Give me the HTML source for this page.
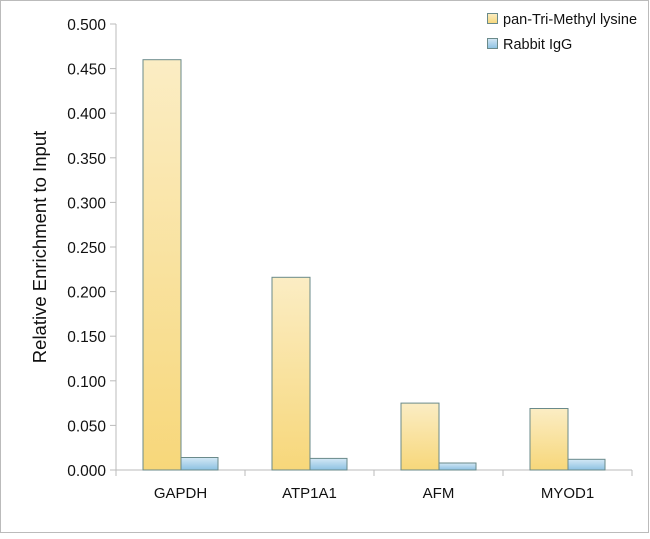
<!DOCTYPE html><html><head><style>body{margin:0;background:#fff}</style></head><body>
<svg width="650" height="534" xmlns="http://www.w3.org/2000/svg" font-family="Liberation Sans, sans-serif">
<defs>
<linearGradient id="y" x1="0" y1="0" x2="0" y2="1"><stop offset="0" stop-color="#fbedc4"/><stop offset="1" stop-color="#f7d77a"/></linearGradient>
<linearGradient id="b" x1="0" y1="0" x2="0" y2="1"><stop offset="0" stop-color="#d4e8f5"/><stop offset="1" stop-color="#8cc1e2"/></linearGradient>
</defs>
<rect x="0.5" y="0.5" width="648" height="532" fill="#fff" stroke="#bbb"/>
<g stroke="#bbb" fill="none">
<line x1="116" y1="24" x2="116" y2="470"/>
<line x1="116" y1="470" x2="632" y2="470"/>
<line x1="110" y1="24" x2="116" y2="24"/><line x1="110" y1="68.6" x2="116" y2="68.6"/><line x1="110" y1="113.2" x2="116" y2="113.2"/><line x1="110" y1="157.8" x2="116" y2="157.8"/><line x1="110" y1="202.4" x2="116" y2="202.4"/><line x1="110" y1="247" x2="116" y2="247"/><line x1="110" y1="291.6" x2="116" y2="291.6"/><line x1="110" y1="336.2" x2="116" y2="336.2"/><line x1="110" y1="380.8" x2="116" y2="380.8"/><line x1="110" y1="425.4" x2="116" y2="425.4"/><line x1="110" y1="470" x2="116" y2="470"/>
<line x1="245" y1="470" x2="245" y2="476"/><line x1="374" y1="470" x2="374" y2="476"/><line x1="503" y1="470" x2="503" y2="476"/><line x1="632" y1="470" x2="632" y2="476"/><line x1="116" y1="470" x2="116" y2="476"/>
</g>
<g font-size="15.5" text-anchor="end" fill="#111">
<text x="106" y="30">0.500</text><text x="106" y="74.6">0.450</text><text x="106" y="119.2">0.400</text><text x="106" y="163.8">0.350</text><text x="106" y="208.4">0.300</text><text x="106" y="253">0.250</text><text x="106" y="297.6">0.200</text><text x="106" y="342.2">0.150</text><text x="106" y="386.8">0.100</text><text x="106" y="431.4">0.050</text><text x="106" y="476">0.000</text>
</g>
<text transform="translate(46,247) rotate(-90)" font-size="18.5" text-anchor="middle" fill="#111">Relative Enrichment to Input</text>
<g stroke="#6a8a8a" stroke-width="1">
<rect x="143" y="59.7" width="38" height="410.3" fill="url(#y)"/><rect x="181" y="457.5" width="37" height="12.5" fill="url(#b)"/>
<rect x="272" y="277.3" width="38" height="192.7" fill="url(#y)"/><rect x="310" y="458.4" width="37" height="11.6" fill="url(#b)"/>
<rect x="401" y="403.1" width="38" height="66.9" fill="url(#y)"/><rect x="439" y="463" width="37" height="7" fill="url(#b)"/>
<rect x="530" y="408.5" width="38" height="61.5" fill="url(#y)"/><rect x="568" y="459.3" width="37" height="10.7" fill="url(#b)"/>
</g>
<g font-size="15" text-anchor="middle" fill="#111">
<text x="180.5" y="498">GAPDH</text><text x="309.5" y="498">ATP1A1</text><text x="438.5" y="498">AFM</text><text x="567.5" y="498">MYOD1</text>
</g>
<rect x="487.5" y="13.5" width="10" height="10" fill="url(#y)" stroke="#6a8a8a"/>
<rect x="487.5" y="38.5" width="10" height="10" fill="url(#b)" stroke="#6a8a8a"/>
<text x="503" y="24" font-size="14.5" fill="#111">pan-Tri-Methyl lysine</text>
<text x="503" y="49" font-size="14.5" fill="#111">Rabbit IgG</text>
</svg>
</body></html>
